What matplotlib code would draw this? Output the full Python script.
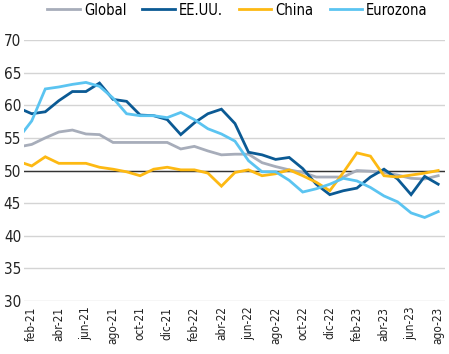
import matplotlib
matplotlib.use("Agg")
import numpy as np
import matplotlib.pyplot as plt

plt.rcParams["font.family"] = ["DejaVu Sans"]
plt.rcParams["font.stretch"] = "condensed"

# monthly PMI readings; ene-21 sits just left of the axis and is clipped
months = ["ene-21", "feb-21", "mar-21", "abr-21", "may-21", "jun-21", "jul-21", "ago-21",
          "sep-21", "oct-21", "nov-21", "dic-21", "ene-22", "feb-22", "mar-22", "abr-22",
          "may-22", "jun-22", "jul-22", "ago-22", "sep-22", "oct-22", "nov-22", "dic-22",
          "ene-23", "feb-23", "mar-23", "abr-23", "may-23", "jun-23", "jul-23", "ago-23"]

global_pmi = [53.6, 54.0, 55.0, 55.9, 56.2, 55.6, 55.5, 54.3, 54.3, 54.3, 54.3, 54.3,
              53.3, 53.7, 53.0, 52.4, 52.5, 52.5, 51.2, 50.6, 50.1, 49.7, 49.0, 49.0,
              49.0, 50.0, 49.9, 49.7, 49.3, 48.8, 48.7, 49.2]
usa_pmi = [59.6, 58.7, 59.0, 60.7, 62.1, 62.1, 63.4, 60.9, 60.6, 58.5, 58.4, 57.8,
           55.5, 57.3, 58.7, 59.4, 57.2, 52.8, 52.4, 51.7, 52.0, 50.3, 47.9, 46.3,
           46.9, 47.3, 49.0, 50.2, 48.7, 46.3, 49.1, 47.9]
china_pmi = [51.4, 50.7, 52.1, 51.1, 51.1, 51.1, 50.5, 50.2, 49.8, 49.2, 50.2, 50.5,
             50.1, 50.1, 49.6, 47.6, 49.7, 50.1, 49.2, 49.5, 50.1, 49.2, 48.2, 46.9,
             49.7, 52.7, 52.2, 49.2, 49.0, 49.3, 49.6, 50.0]
euro_pmi = [54.9, 57.6, 62.5, 62.8, 63.2, 63.5, 62.9, 61.1, 58.7, 58.4, 58.4, 58.1,
            58.9, 57.8, 56.4, 55.6, 54.5, 51.5, 49.8, 49.8, 48.5, 46.7, 47.2, 47.9,
            48.8, 48.4, 47.4, 46.1, 45.2, 43.5, 42.8, 43.7]

series = [
    ("Global", global_pmi, "#a7adba"),
    ("EE.UU.", usa_pmi, "#0b5a94"),
    ("China", china_pmi, "#fdb913"),
    ("Eurozona", euro_pmi, "#5bc4f1"),
]

x = np.arange(len(months))

fig = plt.figure(figsize=(4.49, 3.54), dpi=100)
ax = fig.add_axes([0.0535, 0.1497, 0.9375, 0.7373])

ax.set_ylim(30, 70)
ax.set_xlim(0.43, 31.5)
ax.set_yticks(np.arange(30, 71, 5))
ax.yaxis.grid(True, color="#d4d4d4", linewidth=1.0)
ax.set_axisbelow(True)
ax.axhline(50, color="#333333", linewidth=1.0, zorder=1)

for name, vals, col in series:
    ax.plot(x, vals, color=col, linewidth=2.0, label=name, zorder=2,
            solid_joinstyle="miter")

ax.set_xticks(x[1::2])
ax.set_xticklabels(months[1::2], rotation=90, fontsize=8.5)
ax.tick_params(axis="both", length=0, colors="#222222")
ax.tick_params(axis="y", labelsize=11, pad=2)
ax.tick_params(axis="x", pad=4)
for s in ax.spines.values():
    s.set_visible(False)

fig.legend(loc="upper center", bbox_to_anchor=(0.529, 1.03), ncol=4, frameon=False,
           fontsize=10.5, handlelength=2.2, handletextpad=0.3, columnspacing=1.1)

fig.savefig("out.png", dpi=100)
